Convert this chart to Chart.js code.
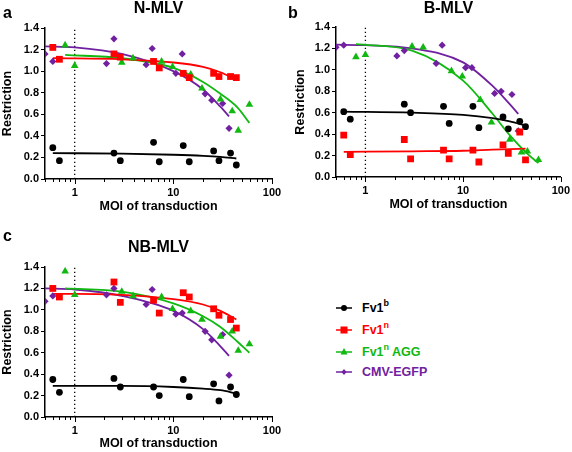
<!DOCTYPE html>
<html>
<head>
<meta charset="utf-8">
<script src="https://cdn.jsdelivr.net/npm/chart.js@4.4.1/dist/chart.umd.min.js"></script>
<style>
  body { margin: 0; background: #fff; width: 572px; height: 452px; position: relative; overflow: hidden;
         font-family: 'Liberation Sans', Arial, sans-serif; }
  canvas { position: absolute; }
  .leg { position: absolute; left: 336px; height: 16px; font-weight: bold; font-size: 12.5px; line-height: 16px; white-space: nowrap; }
  .leg svg { position: absolute; left: 0; top: 3px; }
  .leg span { position: absolute; left: 26px; top: 0; }
  .leg sup { font-size: 9px; position: relative; top: -1px; vertical-align: top; line-height: 9px; }
</style>
</head>
<body>
<canvas id="panelA" width="286" height="215" style="left:0;top:0"></canvas>
<canvas id="panelB" width="286" height="213" style="left:286px;top:0"></canvas>
<canvas id="panelC" width="286" height="232" style="left:0;top:220px"></canvas>

<div class="leg" style="top:300px;color:#000">
  <svg width="16" height="10"><line x1="0" y1="5" x2="16" y2="5" stroke="#000" stroke-width="1.5"/><circle cx="8" cy="5" r="3" fill="#000"/></svg>
  <span>Fv1<sup>b</sup></span>
</div>
<div class="leg" style="top:322px;color:#ff0000">
  <svg width="16" height="10"><line x1="0" y1="5" x2="16" y2="5" stroke="#ff0000" stroke-width="1.5"/><rect x="4.5" y="1.5" width="7" height="7" fill="#ff0000"/></svg>
  <span>Fv1<sup>n</sup></span>
</div>
<div class="leg" style="top:344px;color:#10b810">
  <svg width="16" height="10"><line x1="0" y1="5" x2="16" y2="5" stroke="#10b810" stroke-width="1.5"/><polygon points="8,1 11.5,7.5 4.5,7.5" fill="#10b810"/></svg>
  <span>Fv1<sup>n</sup> AGG</span>
</div>
<div class="leg" style="top:364px;color:#7020a0">
  <svg width="16" height="10"><line x1="0" y1="5" x2="16" y2="5" stroke="#7020a0" stroke-width="1.5"/><polygon points="8,2 10.5,5 8,8 5.5,5" fill="#7020a0"/></svg>
  <span>CMV-EGFP</span>
</div>

<script>
// MOI of transduction for each series (same doses in every panel)
const moiFv1 = [0.6, 0.7, 2.5, 2.9, 6.3, 7.2, 12.6, 14.5, 25.6, 29, 38, 43.5];
const moiAgg = [0.8, 1.0, 3.0, 3.9, 7.6, 9.8, 15, 19.5, 30, 39.5, 45.5, 59];
const moiEgfp = [0.5, 0.6, 2.1, 2.5, 5.3, 6.1, 10.6, 12.3, 21, 24.5, 31.6, 36.7];

// a: N-MLV
const nFv1b = [0.29, 0.17, 0.24, 0.17, 0.34, 0.16, 0.31, 0.16, 0.26, 0.17, 0.24, 0.13];
const nFv1n = [1.22, 1.11, 1.16, 1.13, 1.09, 1.03, 0.98, 0.94, 0.98, 0.95, 0.95, 0.94];
const nAgg = [1.24, 1.05, 1.08, 1.12, 1.09, 1.04, 0.97, 0.84, 0.74, 0.63, 0.45, 0.69];
const nEgfp = [1.16, 1.09, 1.07, 1.30, 1.06, 1.21, 0.98, 1.16, 0.79, 0.73, 0.70, 0.47];
// b: B-MLV
const bFv1b = [0.61, 0.54, 0.68, 0.60, 0.66, 0.50, 0.66, 0.46, 0.56, 0.45, 0.52, 0.47];
const bFv1n = [0.39, 0.21, 0.35, 0.17, 0.25, 0.17, 0.25, 0.14, 0.30, 0.22, 0.42, 0.16];
const bAgg = [1.12, 1.14, 1.22, 1.21, 0.99, 0.94, 0.72, 0.51, 0.35, 0.23, 0.24, 0.16];
const bEgfp = [1.21, 1.23, 1.13, 1.18, 1.06, 1.23, 1.02, 1.02, 0.78, 0.80, 0.77, 0.43];
// c: NB-MLV
const nbFv1b = [0.35, 0.23, 0.36, 0.28, 0.28, 0.20, 0.35, 0.19, 0.31, 0.15, 0.28, 0.21];
const nbFv1n = [1.20, 1.12, 1.26, 1.07, 1.09, 0.97, 1.16, 1.12, 1.01, 0.95, 0.91, 0.83];
const nbAgg = [1.36, 1.14, 1.17, 1.13, 1.12, 1.01, 0.99, 0.91, 0.75, 0.80, 0.62, 0.68];
const nbEgfp = [1.08, 1.13, 1.14, 1.20, 1.05, 1.19, 0.96, 0.97, 0.80, 0.72, 0.77, 0.39];

// fitted curves
const fitXFv1 = [0.6, 3, 10, 20, 30, 43.5];
const fitXAgg = [0.8, 3, 10, 20, 30, 45, 59];
const fitXEgfp = [0.5, 1, 3, 10, 20, 30, 36.7];
const nFitFv1b = [0.24, 0.235, 0.225, 0.215, 0.205, 0.19];
const nFitFv1n = [1.12, 1.11, 1.08, 1.04, 0.99, 0.92];
const nFitAgg = [1.15, 1.12, 1.03, 0.90, 0.79, 0.66, 0.52];
const nFitEgfp = [1.23, 1.22, 1.16, 1.00, 0.83, 0.67, 0.58];
const bFitFv1b = [0.61, 0.60, 0.58, 0.55, 0.52, 0.48];
const bFitFv1n = [0.235, 0.24, 0.245, 0.255, 0.26, 0.265];
const bFitAgg = [1.24, 1.18, 0.90, 0.59, 0.39, 0.22, 0.13];
const bFitEgfp = [1.235, 1.23, 1.20, 1.07, 0.85, 0.68, 0.59];
const nbFitFv1b = [0.29, 0.29, 0.28, 0.265, 0.25, 0.22];
const nbFitFv1n = [1.15, 1.14, 1.10, 1.05, 0.99, 0.91];
const nbFitAgg = [1.20, 1.17, 1.06, 0.94, 0.84, 0.70, 0.60];
const nbFitEgfp = [1.20, 1.19, 1.13, 0.99, 0.82, 0.66, 0.57];

const xTickValues = [0.5, 0.6, 0.7, 0.8, 0.9, 1, 2, 3, 4, 5, 6, 7, 8, 9, 10, 20, 30, 40, 50, 60, 70, 80, 90, 100];
const xLabels = [1, 10, 100];
const yMax = 1.4;

const BLACK = '#000000', RED = '#ff0000', GREEN = '#10b810', PURPLE = '#7020a0';
const FONT = "'Liberation Sans', Arial, sans-serif";

Chart.defaults.font.family = FONT;
Chart.defaults.font.weight = 'bold';
Chart.defaults.color = '#000';

function pts(xs, ys) { return xs.map((x, i) => ({ x: x, y: ys[i] })); }

function scatterSet(xs, ys, color, style, r) {
  return { data: pts(xs, ys), showLine: false, pointStyle: style, pointRadius: r,
           backgroundColor: color, borderColor: color, borderWidth: 0 };
}
function fitSet(xs, ys, color) {
  return { data: pts(xs, ys), showLine: true, pointRadius: 0, borderColor: color,
           borderWidth: 1.8, cubicInterpolationMode: 'monotone', fill: false };
}

const extras = {
  id: 'extras',
  beforeDatasetsDraw(chart) {
    const { ctx, scales: { x, y } } = chart;
    const px = x.getPixelForValue(1);
    ctx.save();
    ctx.strokeStyle = '#000';
    ctx.lineWidth = 1.3;
    ctx.setLineDash([1.3, 2.7]);
    ctx.beginPath();
    ctx.moveTo(px, y.getPixelForValue(0));
    ctx.lineTo(px, y.getPixelForValue(yMax));
    ctx.stroke();
    ctx.restore();
  },
  afterDraw(chart, args, opts) {
    const { ctx, chartArea: a, scales: { x } } = chart;
    ctx.save();
    ctx.strokeStyle = '#000';
    ctx.lineWidth = 1;
    x.ticks.forEach(t => {
      const p = Math.round(x.getPixelForValue(t.value)) + 0.5;
      const len = xLabels.includes(t.value) ? 5 : 3;
      ctx.beginPath();
      ctx.moveTo(p, a.bottom);
      ctx.lineTo(p, a.bottom + len);
      ctx.stroke();
    });
    ctx.fillStyle = '#000';
    ctx.textBaseline = 'middle';
    ctx.font = 'bold 16px ' + FONT;
    ctx.textAlign = 'center';
    ctx.fillText(opts.title, (a.left + a.right) / 2, opts.titleY);
    ctx.textAlign = 'left';
    ctx.fillText(opts.letter, opts.letterX, opts.letterY);
    ctx.restore();
  }
};

function makePanel(id, g, series) {
  const datasets = [
    scatterSet(moiFv1, series.fv1n, RED, 'rect', 4.8),
    scatterSet(moiFv1, series.fv1b, BLACK, 'circle', 3.4),
    scatterSet(moiAgg, series.agg, GREEN, 'triangle', 4.4),
    scatterSet(moiEgfp, series.egfp, PURPLE, 'rectRot', 3.6),
    fitSet(fitXFv1, series.fitFv1n, RED),
    fitSet(fitXFv1, series.fitFv1b, BLACK),
    fitSet(fitXAgg, series.fitAgg, GREEN),
    fitSet(fitXEgfp, series.fitEgfp, PURPLE)
  ];
  return new Chart(document.getElementById(id), {
    type: 'scatter',
    data: { datasets: datasets },
    plugins: [extras],
    options: {
      responsive: false,
      animation: false,
      layout: { padding: { left: 0, right: g.right, top: g.top, bottom: 0 } },
      plugins: {
        legend: { display: false },
        tooltip: { enabled: false },
        extras: { title: g.title, titleY: g.titleY, letter: g.letter, letterX: g.letterX, letterY: g.letterY }
      },
      scales: {
        x: {
          type: 'logarithmic', min: 0.5, max: 100,
          afterBuildTicks: s => { s.ticks = xTickValues.map(v => ({ value: v })); },
          afterFit: s => { s.height = g.xHeight; },
          ticks: { autoSkip: false, maxRotation: 0, padding: 2, font: { size: 11, weight: 'bold' },
                   callback: v => xLabels.includes(v) ? String(v) : '' },
          grid: { drawOnChartArea: false, drawTicks: true, tickLength: 5, tickColor: 'rgba(0,0,0,0)' },
          border: { display: true, color: '#000', width: 1.5 },
          title: { display: true, text: 'MOI of transduction', font: { size: 12.5, weight: 'bold' }, padding: { top: 0, bottom: 1 } }
        },
        y: {
          min: 0, max: yMax,
          afterFit: s => { s.width = g.yWidth; },
          ticks: { stepSize: 0.2, padding: 2, font: { size: 11, weight: 'bold' }, callback: v => v.toFixed(1) },
          grid: { drawOnChartArea: false, drawTicks: true, tickLength: 4, tickColor: '#000', tickWidth: 1 },
          border: { display: true, color: '#000', width: 1.5 },
          title: { display: true, text: 'Restriction', font: { size: 12.5, weight: 'bold' }, padding: { top: g.yTitlePad, bottom: 0 } }
        }
      }
    }
  });
}

makePanel('panelA',
  { top: 28, right: 14, xHeight: 36, yWidth: 45, yTitlePad: 0, title: 'N-MLV', titleY: 9, letter: 'a', letterX: 3, letterY: 14 },
  { fv1b: nFv1b, fv1n: nFv1n, agg: nAgg, egfp: nEgfp,
    fitFv1b: nFitFv1b, fitFv1n: nFitFv1n, fitAgg: nFitAgg, fitEgfp: nFitEgfp });

makePanel('panelB',
  { top: 27, right: 11, xHeight: 36, yWidth: 50, yTitlePad: 7, title: 'B-MLV', titleY: 9, letter: 'b', letterX: 2, letterY: 14 },
  { fv1b: bFv1b, fv1n: bFv1n, agg: bAgg, egfp: bEgfp,
    fitFv1b: bFitFv1b, fitFv1n: bFitFv1n, fitAgg: bFitAgg, fitEgfp: bFitEgfp });

makePanel('panelC',
  { top: 47, right: 14, xHeight: 35, yWidth: 45, yTitlePad: 0, title: 'NB-MLV', titleY: 28, letter: 'c', letterX: 3, letterY: 17 },
  { fv1b: nbFv1b, fv1n: nbFv1n, agg: nbAgg, egfp: nbEgfp,
    fitFv1b: nbFitFv1b, fitFv1n: nbFitFv1n, fitAgg: nbFitAgg, fitEgfp: nbFitEgfp });
</script>
</body>
</html>
